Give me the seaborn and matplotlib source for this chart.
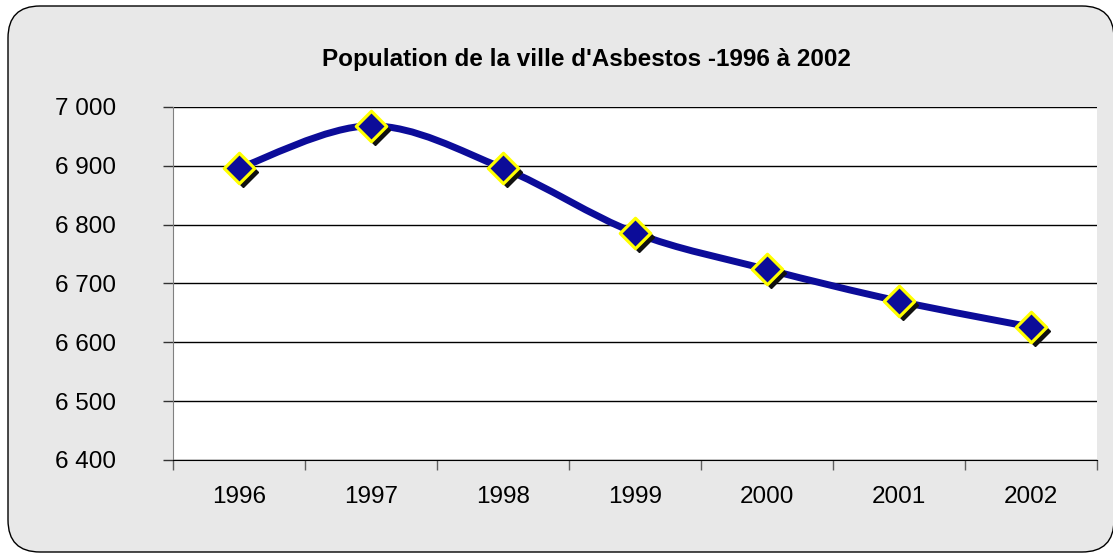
import numpy as np
import pandas as pd
import matplotlib
matplotlib.use("Agg")
import matplotlib.pyplot as plt
import matplotlib.ticker as mticker
from matplotlib.patches import FancyBboxPatch, PathPatch
from matplotlib.path import Path
from matplotlib.transforms import offset_copy
import seaborn as sns

# data
years = ["1996", "1997", "1998", "1999", "2000", "2001", "2002"]
population = [6896, 6968, 6896, 6786, 6724, 6670, 6626]

df = pd.DataFrame({"annee": years, "population": population})
df["pos"] = np.arange(len(years))

sns.set_style("white")
plt.rcParams["font.family"] = ["Liberation Sans", "DejaVu Sans"]

fig = plt.figure(figsize=(11.13, 5.56), dpi=100)
fig.patch.set_facecolor("white")

# rounded grey frame (inches)
frame = FancyBboxPatch((0.08, 0.04), 11.06, 5.46,
                       boxstyle="round,pad=0,rounding_size=0.32",
                       transform=fig.dpi_scale_trans, facecolor="#e8e8e8",
                       edgecolor="black", linewidth=1.0, zorder=0)
fig.patches.append(frame)

ax = fig.add_axes([0.1554, 0.1727, 0.8302, 0.6349])
ax.set_zorder(2)
ax.set_facecolor("white")

# smoothed line (bezier through the points, like Excel's smoothing)
x = df["pos"].to_numpy(dtype=float)
y = df["population"].to_numpy(dtype=float)
pts = np.column_stack([x, y])
ext = np.vstack([pts[0], pts, pts[-1]])
verts = [tuple(pts[0])]
codes = [Path.MOVETO]
for i in range(len(pts) - 1):
    p0, p1, p2, p3 = ext[i], ext[i + 1], ext[i + 2], ext[i + 3]
    c1 = p1 + (p2 - p0) / 6.0
    c2 = p2 - (p3 - p1) / 6.0
    verts += [tuple(c1), tuple(c2), tuple(p2)]
    codes += [Path.CURVE4] * 3
curve = PathPatch(Path(verts, codes), facecolor="none", edgecolor="#0c0c99",
                  linewidth=5, zorder=3, capstyle="round", joinstyle="round")
ax.add_patch(curve)

# marker shadows
shadow_tr = offset_copy(ax.transData, fig=fig, x=4, y=-4, units="dots")
ax.plot(x, y, linestyle="none", marker="D", markersize=15, color="#111111",
        transform=shadow_tr, zorder=4)

sns.scatterplot(data=df, x="pos", y="population", marker="D", s=240,
                color="#0c0c99", edgecolor="#ffff00", linewidth=2.3,
                zorder=5, ax=ax, legend=False)

ax.set_xlim(-0.5, 6.5)
ax.set_ylim(6400, 7000)
ax.set_xticks(df["pos"])
ax.set_xticklabels(years)
ax.xaxis.set_minor_locator(mticker.FixedLocator(np.arange(-0.5, 7.0, 1.0)))
ax.set_yticks(np.arange(6400, 7001, 100))
ax.yaxis.set_major_formatter(mticker.FuncFormatter(
    lambda v, p: f"{int(v):,}".replace(",", " ")))

ax.grid(axis="y", color="black", linewidth=1)
ax.set_axisbelow(True)
for side in ["top", "right"]:
    ax.spines[side].set_visible(False)
ax.spines["left"].set_color("#808080")
ax.spines["bottom"].set_color("black")

ax.tick_params(axis="x", which="major", length=0, labelsize=17.5, pad=19,
               labelcolor="black")
ax.tick_params(axis="x", which="minor", length=7, width=1, color="#606060",
               direction="out", bottom=True)
ax.tick_params(axis="y", length=7, width=1, color="#333333", direction="out",
               left=True, labelsize=17.5, pad=34, labelcolor="black")

ax.set_xlabel("")
ax.set_ylabel("")

fig.text(0.5265, 0.893, "Population de la ville d'Asbestos -1996 à 2002",
         ha="center", va="center", fontsize=17.5, fontweight="bold",
         color="black")

fig.savefig("out.png", dpi=100)
